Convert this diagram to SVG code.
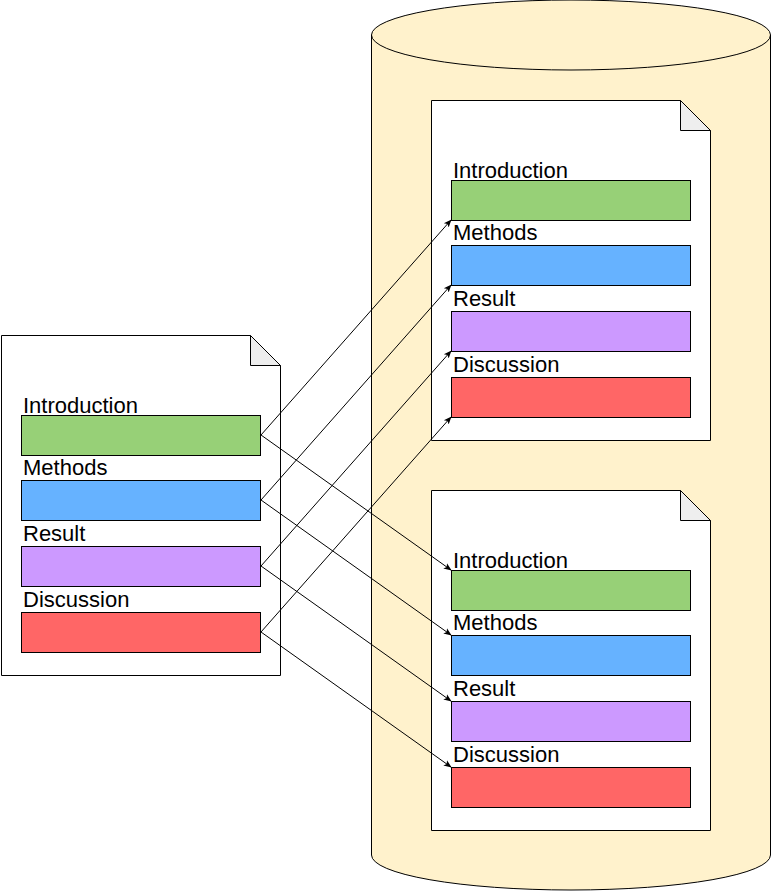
<svg xmlns="http://www.w3.org/2000/svg" width="771" height="891" viewBox="0 0 771 891">
<style>
.doc{fill:#ffffff;stroke:#000000;stroke-width:1}
.fold{fill:#eeeeee;stroke:#000000;stroke-width:1}
.box{stroke:#000000;stroke-width:1}
.g{fill:#97d077}.b{fill:#66b2ff}.p{fill:#cc99ff}.r{fill:#ff6666}
.lbl{font-family:"Liberation Sans",Arial,sans-serif;font-size:22px;fill:#000000}
.conn{stroke:#000000;stroke-width:1;fill:none;marker-end:url(#ah)}
</style>
<defs>
<marker id="ah" viewBox="0 0 10 10" refX="9" refY="5" markerWidth="8" markerHeight="8" markerUnits="userSpaceOnUse" orient="auto">
<path d="M0,1 L10,5 L0,9 L2.5,5 Z" fill="#000000"/>
</marker>
</defs>
<g id="cylinder">
<path d="M371.5,35 A199.5,35 0 0 1 770.5,35 L770.5,855 A199.5,35 0 0 1 371.5,855 Z" fill="#fff2cc" stroke="#000000" stroke-width="1"/>
<path d="M371.5,35 A199.5,35 0 0 0 770.5,35" fill="none" stroke="#000000" stroke-width="1"/>
</g>
<g id="doc-left">
<path class="doc" d="M1.5,335.5 L250.5,335.5 L280.5,365.5 L280.5,675.5 L1.5,675.5 Z"/>
<path class="fold" d="M250.5,335.5 L250.5,365.5 L280.5,365.5 Z"/>
<text class="lbl" x="23" y="413">Introduction</text>
<rect class="box g" x="21.5" y="415.5" width="239" height="40"/>
<text class="lbl" x="23" y="475">Methods</text>
<rect class="box b" x="21.5" y="480.5" width="239" height="40"/>
<text class="lbl" x="23" y="541">Result</text>
<rect class="box p" x="21.5" y="546.5" width="239" height="40"/>
<text class="lbl" x="23" y="607">Discussion</text>
<rect class="box r" x="21.5" y="612.5" width="239" height="40"/>
</g>
<g id="doc-top">
<path class="doc" d="M431.5,100.5 L680.5,100.5 L710.5,130.5 L710.5,440.5 L431.5,440.5 Z"/>
<path class="fold" d="M680.5,100.5 L680.5,130.5 L710.5,130.5 Z"/>
<text class="lbl" x="453" y="178">Introduction</text>
<rect class="box g" x="451.5" y="180.5" width="239" height="40"/>
<text class="lbl" x="453" y="240">Methods</text>
<rect class="box b" x="451.5" y="245.5" width="239" height="40"/>
<text class="lbl" x="453" y="306">Result</text>
<rect class="box p" x="451.5" y="311.5" width="239" height="40"/>
<text class="lbl" x="453" y="372">Discussion</text>
<rect class="box r" x="451.5" y="377.5" width="239" height="40"/>
</g>
<g id="doc-bottom">
<path class="doc" d="M431.5,490.5 L680.5,490.5 L710.5,520.5 L710.5,830.5 L431.5,830.5 Z"/>
<path class="fold" d="M680.5,490.5 L680.5,520.5 L710.5,520.5 Z"/>
<text class="lbl" x="453" y="568">Introduction</text>
<rect class="box g" x="451.5" y="570.5" width="239" height="40"/>
<text class="lbl" x="453" y="630">Methods</text>
<rect class="box b" x="451.5" y="635.5" width="239" height="40"/>
<text class="lbl" x="453" y="696">Result</text>
<rect class="box p" x="451.5" y="701.5" width="239" height="40"/>
<text class="lbl" x="453" y="762">Discussion</text>
<rect class="box r" x="451.5" y="767.5" width="239" height="40"/>
</g>
<g id="connectors">
<path class="conn" d="M261,435 L451,220"/>
<path class="conn" d="M261,500 L451,285"/>
<path class="conn" d="M261,566 L451,351"/>
<path class="conn" d="M261,632 L451,417"/>
<path class="conn" d="M261,435 L451,570"/>
<path class="conn" d="M261,500 L451,635"/>
<path class="conn" d="M261,566 L451,701"/>
<path class="conn" d="M261,632 L451,767"/>
</g>
</svg>
